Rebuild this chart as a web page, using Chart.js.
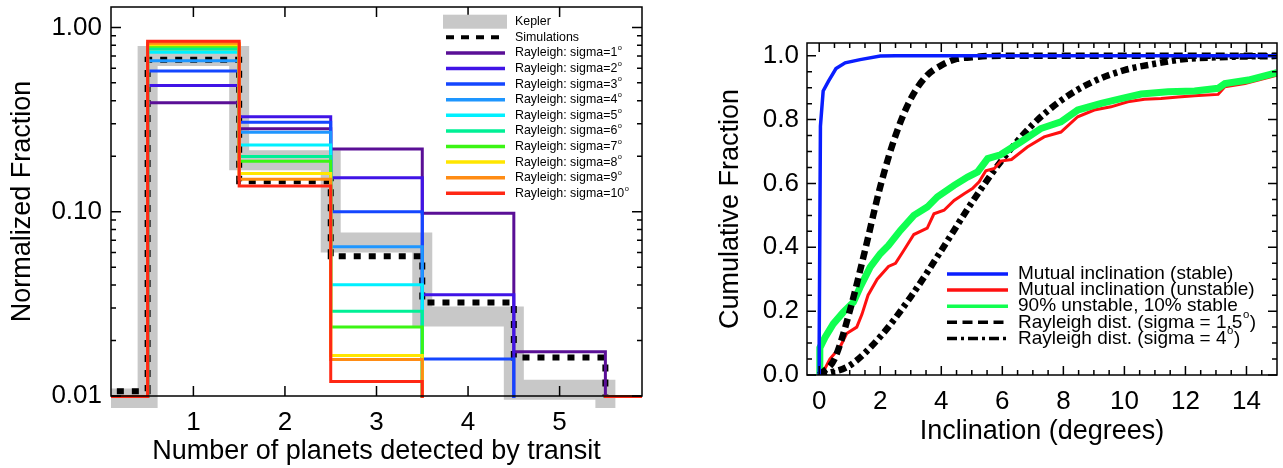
<!DOCTYPE html>
<html>
<head>
<meta charset="utf-8">
<script src="https://cdn.jsdelivr.net/npm/chart.js@4.4.1/dist/chart.umd.min.js"></script>
<style>
  html, body { margin: 0; padding: 0; background: #fff; }
  #wrap { position: relative; width: 1283px; height: 468px; overflow: hidden; }
  canvas { position: absolute; top: 0; }
  #left { left: 0; }
  #right { left: 700px; }
</style>
</head>
<body>
<div id="wrap">
  <canvas id="left" width="660" height="468"></canvas>
  <canvas id="right" width="583" height="468"></canvas>
</div>
<script>
// ---------- left panel: number of transiting planets (log y) ----------
const nPlanets    = [0, 1, 2, 3, 4, 5, 6];
const kepler      = [0.0097, 0.70, 0.19, 0.068, 0.027, 0.0108, 0.0001];
const simulations = [0.0106, 0.668, 0.1465, 0.0574, 0.0322, 0.0162, 0.0001];
const sigma1  = [0.0099, 0.39, 0.282, 0.219, 0.098, 0.0174, 0.0099];
const sigma2  = [0.0099, 0.484, 0.327, 0.153, 0.0354, 0.0001, 0.0099];
const sigma3  = [0.0099, 0.58, 0.306, 0.100, 0.0159, 0.0001, 0.0099];
const sigma4  = [0.0099, 0.66, 0.27, 0.0645, 0.0001, 0.0001, 0.0099];
const sigma5  = [0.0099, 0.732, 0.23, 0.0402, 0.0001, 0.0001, 0.0099];
const sigma6  = [0.0099, 0.764, 0.199, 0.0288, 0.0001, 0.0001, 0.0099];
const sigma7  = [0.0099, 0.79, 0.188, 0.0237, 0.0001, 0.0001, 0.0099];
const sigma8  = [0.0099, 0.806, 0.161, 0.0166, 0.0001, 0.0001, 0.0099];
const sigma9  = [0.0099, 0.82, 0.15, 0.0158, 0.0001, 0.0001, 0.0099];
const sigma10 = [0.0099, 0.84, 0.138, 0.012, 0.0001, 0.0001, 0.0099];
const sigmaSeries = [sigma1, sigma2, sigma3, sigma4, sigma5, sigma6, sigma7, sigma8, sigma9, sigma10];
const sigmaValues = [1, 2, 3, 4, 5, 6, 7, 8, 9, 10];
const xTicksLeft = [1, 2, 3, 4, 5];
const yTicksLeft = [0.01, 0.1, 1];
const yMinorLeft = [0.02, 0.03, 0.04, 0.05, 0.06, 0.07, 0.08, 0.09, 0.2, 0.3, 0.4, 0.5, 0.6, 0.7, 0.8, 0.9];

// ---------- right panel: cumulative inclination distributions ----------
const stableInc = [[0,0],[0,0.11],[0.04,0.78],[0.13,0.89],[0.3,0.92],[0.55,0.96],[0.85,0.978],[1.34,0.988],[2.0,0.999],[2.5,1],[15,1]];
const unstableInc = [[0.08,0],[0.35,0.05],[0.68,0.087],[0.9,0.13],[1.23,0.15],[1.4,0.19],[1.6,0.25],[1.9,0.3],[2.27,0.34],[2.5,0.35],
  [2.77,0.39],[3.1,0.44],[3.54,0.46],[3.76,0.505],[4.09,0.516],[4.42,0.547],[4.75,0.568],[5.02,0.584],[5.24,0.605],[5.46,0.64],
  [5.74,0.647],[5.95,0.67],[6.3,0.675],[6.82,0.714],[7.37,0.746],[7.92,0.761],[8.47,0.809],[9.01,0.83],[9.56,0.84],[10.11,0.856],
  [10.66,0.864],[11.2,0.866],[11.76,0.871],[12.3,0.875],[13.07,0.879],[13.29,0.903],[13.95,0.913],[15,0.939]];
const mixedInc = [[0,0],[0.02,0.085],[0.19,0.118],[0.46,0.16],[0.79,0.197],[1.12,0.228],[1.34,0.275],[1.67,0.338],[2.0,0.38],[2.27,0.406],
  [2.66,0.453],[3.1,0.5],[3.54,0.526],[3.87,0.558],[4.42,0.594],[4.86,0.62],[5.19,0.636],[5.52,0.678],[5.94,0.69],[6.6,0.73],
  [7.26,0.772],[7.92,0.793],[8.47,0.83],[9.24,0.851],[9.89,0.866],[10.55,0.88],[11.43,0.887],[12.3,0.89],[13.07,0.898],[13.29,0.913],
  [14.06,0.924],[15,0.947]];
const rayleigh15 = [[0,0],[0.5,0.05],[1,0.2],[1.5,0.39],[2,0.59],[2.5,0.75],[3,0.865],[3.5,0.935],[4,0.97],[4.5,0.99],[5,0.995],[5.5,0.999],[6,1],[15,1]];
const rayleigh4 = [[0,0],[1,0.03],[2,0.12],[3,0.245],[4,0.39],[5,0.54],[6,0.675],[7,0.785],[8,0.865],[9,0.92],[10,0.955],[11,0.975],[12,0.99],[13,0.995],[14,0.998],[15,0.999]];
const xTicksRight = [0, 2, 4, 6, 8, 10, 12, 14];
const yTicksRight = [0, 0.2, 0.4, 0.6, 0.8, 1.0];

const FONT = "'Liberation Sans', Arial, Helvetica, sans-serif";
Chart.defaults.font.family = FONT;
Chart.defaults.color = '#000';

const sigmaColors = ['#5a0f96', '#4014e6', '#1446ff', '#1e96ff', '#00f0ff', '#00f096', '#3cf514', '#ffe600', '#ff8c14', '#ff2814'];

// box frame with inward ticks on all four sides
const frameTicks = {
  id: 'frameTicks',
  afterDraw(chart, args, o) {
    const {ctx, chartArea: a} = chart;
    const sx = chart.scales.x, sy = chart.scales.y;
    ctx.save();
    ctx.strokeStyle = '#000';
    ctx.lineWidth = 1.5;
    ctx.beginPath();
    const xt = (vals, len) => vals.forEach(v => {
      const p = sx.getPixelForValue(v);
      ctx.moveTo(p, a.bottom); ctx.lineTo(p, a.bottom - len);
      ctx.moveTo(p, a.top); ctx.lineTo(p, a.top + len);
    });
    const yt = (vals, len) => vals.forEach(v => {
      const p = sy.getPixelForValue(v);
      ctx.moveTo(a.left, p); ctx.lineTo(a.left + len, p);
      ctx.moveTo(a.right, p); ctx.lineTo(a.right - len, p);
    });
    xt(o.xMajor, o.major); xt(o.xMinor || [], o.minor);
    yt(o.yMajor, o.major); yt(o.yMinor || [], o.minor);
    ctx.stroke();
    ctx.strokeRect(a.left, a.top, a.right - a.left, a.bottom - a.top);
    ctx.restore();
  }
};

// legend drawn inside the plot, IDL style
const legendBox = {
  id: 'legendBox',
  afterDraw(chart, args, o) {
    const ctx = chart.ctx;
    ctx.save();
    ctx.textBaseline = 'middle';
    o.items.forEach((it, i) => {
      const y = o.y0 + i * o.dy;
      if (it.box) {
        ctx.fillStyle = it.color;
        ctx.fillRect(o.x1 - 3, y - it.box / 2, o.x2 - o.x1 + 5, it.box);
      } else {
        ctx.strokeStyle = it.color;
        ctx.lineWidth = it.width;
        ctx.setLineDash(it.dash || []);
        ctx.beginPath();
        ctx.moveTo(o.x1, y); ctx.lineTo(o.x2, y);
        ctx.stroke();
        ctx.setLineDash([]);
      }
      ctx.fillStyle = '#000';
      ctx.font = o.size + 'px ' + FONT;
      ctx.fillText(it.text, o.tx, y);
      if (it.sup) {
        const w = ctx.measureText(it.text).width;
        ctx.font = (o.size * 0.6) + 'px ' + FONT;
        ctx.fillText('o', o.tx + w + 0.5, y - o.size * 0.38);
        const sw = ctx.measureText('o').width;
        if (it.after) {
          ctx.font = o.size + 'px ' + FONT;
          ctx.fillText(it.after, o.tx + w + sw + 1, y);
        }
      }
    });
    ctx.restore();
  }
};

const toXY = (xs, ys) => xs.map((x, i) => ({x: x, y: ys[i]}));
const pairs = arr => arr.map(p => ({x: p[0], y: p[1]}));

// ---------- left chart ----------
const leftSets = [
  {label: 'Kepler', data: toXY(nPlanets, kepler), borderColor: '#c8c8c8', borderWidth: 20, order: 20,
   clip: {left: 0, top: 0, right: 0, bottom: 12}},
  {label: 'Simulations', data: toXY(nPlanets, simulations), borderColor: '#000', borderWidth: 6, borderDash: [7, 8], order: 19,
   clip: {left: 0, top: 0, right: 0, bottom: 0}}
];
sigmaSeries.forEach((s, i) => leftSets.push({
  label: 'Rayleigh: sigma=' + sigmaValues[i], data: toXY(nPlanets, s), borderColor: sigmaColors[i], borderWidth: 3,
  order: 10 - i, clip: {left: 0, top: 0, right: 0, bottom: 2}
}));
leftSets.forEach(d => { d.stepped = 'middle'; d.pointRadius = 0; d.fill = false; });

const leftLegend = [{text: 'Kepler', color: '#c8c8c8', box: 14}, {text: 'Simulations', color: '#000', width: 4, dash: [8, 7]}];
sigmaValues.forEach((v, i) => leftLegend.push({text: 'Rayleigh: sigma=' + v, sup: true, color: sigmaColors[i], width: 3.5}));

new Chart(document.getElementById('left'), {
  type: 'line',
  data: {datasets: leftSets},
  plugins: [frameTicks, legendBox],
  options: {
    responsive: false, animation: false, devicePixelRatio: 1,
    layout: {padding: {top: 7, right: 18, left: 0, bottom: 0}},
    plugins: {
      legend: {display: false}, tooltip: {enabled: false},
      frameTicks: {xMajor: xTicksLeft, yMajor: yTicksLeft, yMinor: yMinorLeft, major: 10, minor: 5},
      legendBox: {items: leftLegend, x1: 446, x2: 505, tx: 515, y0: 21.7, dy: 15.6, size: 12.4}
    },
    scales: {
      x: {
        type: 'linear', min: 0.1, max: 5.9,
        afterBuildTicks: s => { s.ticks = xTicksLeft.map(v => ({value: v})); },
        afterFit: s => { s.height = 72; s.paddingLeft = 0; s.paddingRight = 0; },
        grid: {display: false, drawTicks: false},
        border: {display: false},
        ticks: {padding: 11, font: {size: 26}, maxRotation: 0, autoSkip: false, callback: v => String(v)},
        title: {display: true, text: 'Number of planets detected by transit', font: {size: 27}, padding: {top: 0, bottom: 0}}
      },
      y: {
        type: 'logarithmic', min: 0.01, max: 1.29,
        afterBuildTicks: s => { s.ticks = yTicksLeft.map(v => ({value: v})); },
        afterFit: s => { s.width = 111; s.paddingTop = 0; s.paddingBottom = 0; },
        grid: {display: false, drawTicks: false},
        border: {display: false},
        ticks: {padding: 9, font: {size: 26}, autoSkip: false, callback: v => Number(v).toFixed(2)},
        title: {display: true, text: 'Normalized Fraction', font: {size: 27}, padding: {top: 6, bottom: 0}}
      }
    }
  }
});

// ---------- right chart ----------
const rightSets = [
  {label: 'Rayleigh dist. (sigma = 4)', data: pairs(rayleigh4), borderColor: '#000', borderWidth: 6.5, borderDash: [8, 4, 4, 4], order: 5},
  {label: 'Mutual inclination (unstable)', data: pairs(unstableInc), borderColor: '#ff1010', borderWidth: 3, order: 4},
  {label: '90% unstable, 10% stable', data: pairs(mixedInc), borderColor: '#10ff50', borderWidth: 7, order: 3},
  {label: 'Rayleigh dist. (sigma = 1.5)', data: pairs(rayleigh15), borderColor: '#000', borderWidth: 6.5, borderDash: [9, 5], order: 2},
  {label: 'Mutual inclination (stable)', data: pairs(stableInc), borderColor: '#0a1eff', borderWidth: 3.5, order: 1}
];
rightSets.forEach(d => { d.pointRadius = 0; d.fill = false; d.tension = 0; });
rightSets[0].cubicInterpolationMode = 'monotone';
rightSets[3].cubicInterpolationMode = 'monotone';

const rightLegend = [
  {text: 'Mutual inclination (stable)', color: '#0a1eff', width: 3.5},
  {text: 'Mutual inclination (unstable)', color: '#ff1010', width: 3.5},
  {text: '90% unstable, 10% stable', color: '#10ff50', width: 3.5},
  {text: 'Rayleigh dist. (sigma = 1.5', sup: true, after: ')', color: '#000', width: 3.5, dash: [10, 5.5]},
  {text: 'Rayleigh dist. (sigma = 4', sup: true, after: ')', color: '#000', width: 3.5, dash: [10, 4, 3, 4]}
];

new Chart(document.getElementById('right'), {
  type: 'line',
  data: {datasets: rightSets},
  plugins: [frameTicks, legendBox],
  options: {
    responsive: false, animation: false, devicePixelRatio: 1,
    layout: {padding: {top: 43, right: 6, left: 0, bottom: 0}},
    plugins: {
      legend: {display: false}, tooltip: {enabled: false},
      frameTicks: {
        xMajor: xTicksRight, xMinor: [0.5,1,1.5,2.5,3,3.5,4.5,5,5.5,6.5,7,7.5,8.5,9,9.5,10.5,11,11.5,12.5,13,13.5,14.5],
        yMajor: yTicksRight, yMinor: [0.05,0.1,0.15,0.25,0.3,0.35,0.45,0.5,0.55,0.65,0.7,0.75,0.85,0.9,0.95],
        major: 9, minor: 5
      },
      legendBox: {items: rightLegend, x1: 247, x2: 308, tx: 318, y0: 274, dy: 16.1, size: 19}
    },
    scales: {
      x: {
        type: 'linear', min: -0.4, max: 15,
        afterBuildTicks: s => { s.ticks = xTicksRight.map(v => ({value: v})); },
        afterFit: s => { s.height = 93; s.paddingLeft = 0; s.paddingRight = 0; },
        grid: {display: false, drawTicks: false},
        border: {display: false},
        ticks: {padding: 11, font: {size: 26}, maxRotation: 0, autoSkip: false, callback: v => String(v)},
        title: {display: true, text: 'Inclination (degrees)', font: {size: 27}, padding: {top: 0, bottom: 20}}
      },
      y: {
        type: 'linear', min: 0, max: 1.04,
        afterBuildTicks: s => { s.ticks = yTicksRight.map(v => ({value: v})); },
        afterFit: s => { s.width = 107; s.paddingTop = 0; s.paddingBottom = 0; },
        grid: {display: false, drawTicks: false},
        border: {display: false},
        ticks: {padding: 8, font: {size: 26}, autoSkip: false, callback: v => Number(v).toFixed(1)},
        title: {display: true, text: 'Cumulative Fraction', font: {size: 27}, padding: {top: 14.5, bottom: 0}}
      }
    }
  }
});
</script>
</body>
</html>
